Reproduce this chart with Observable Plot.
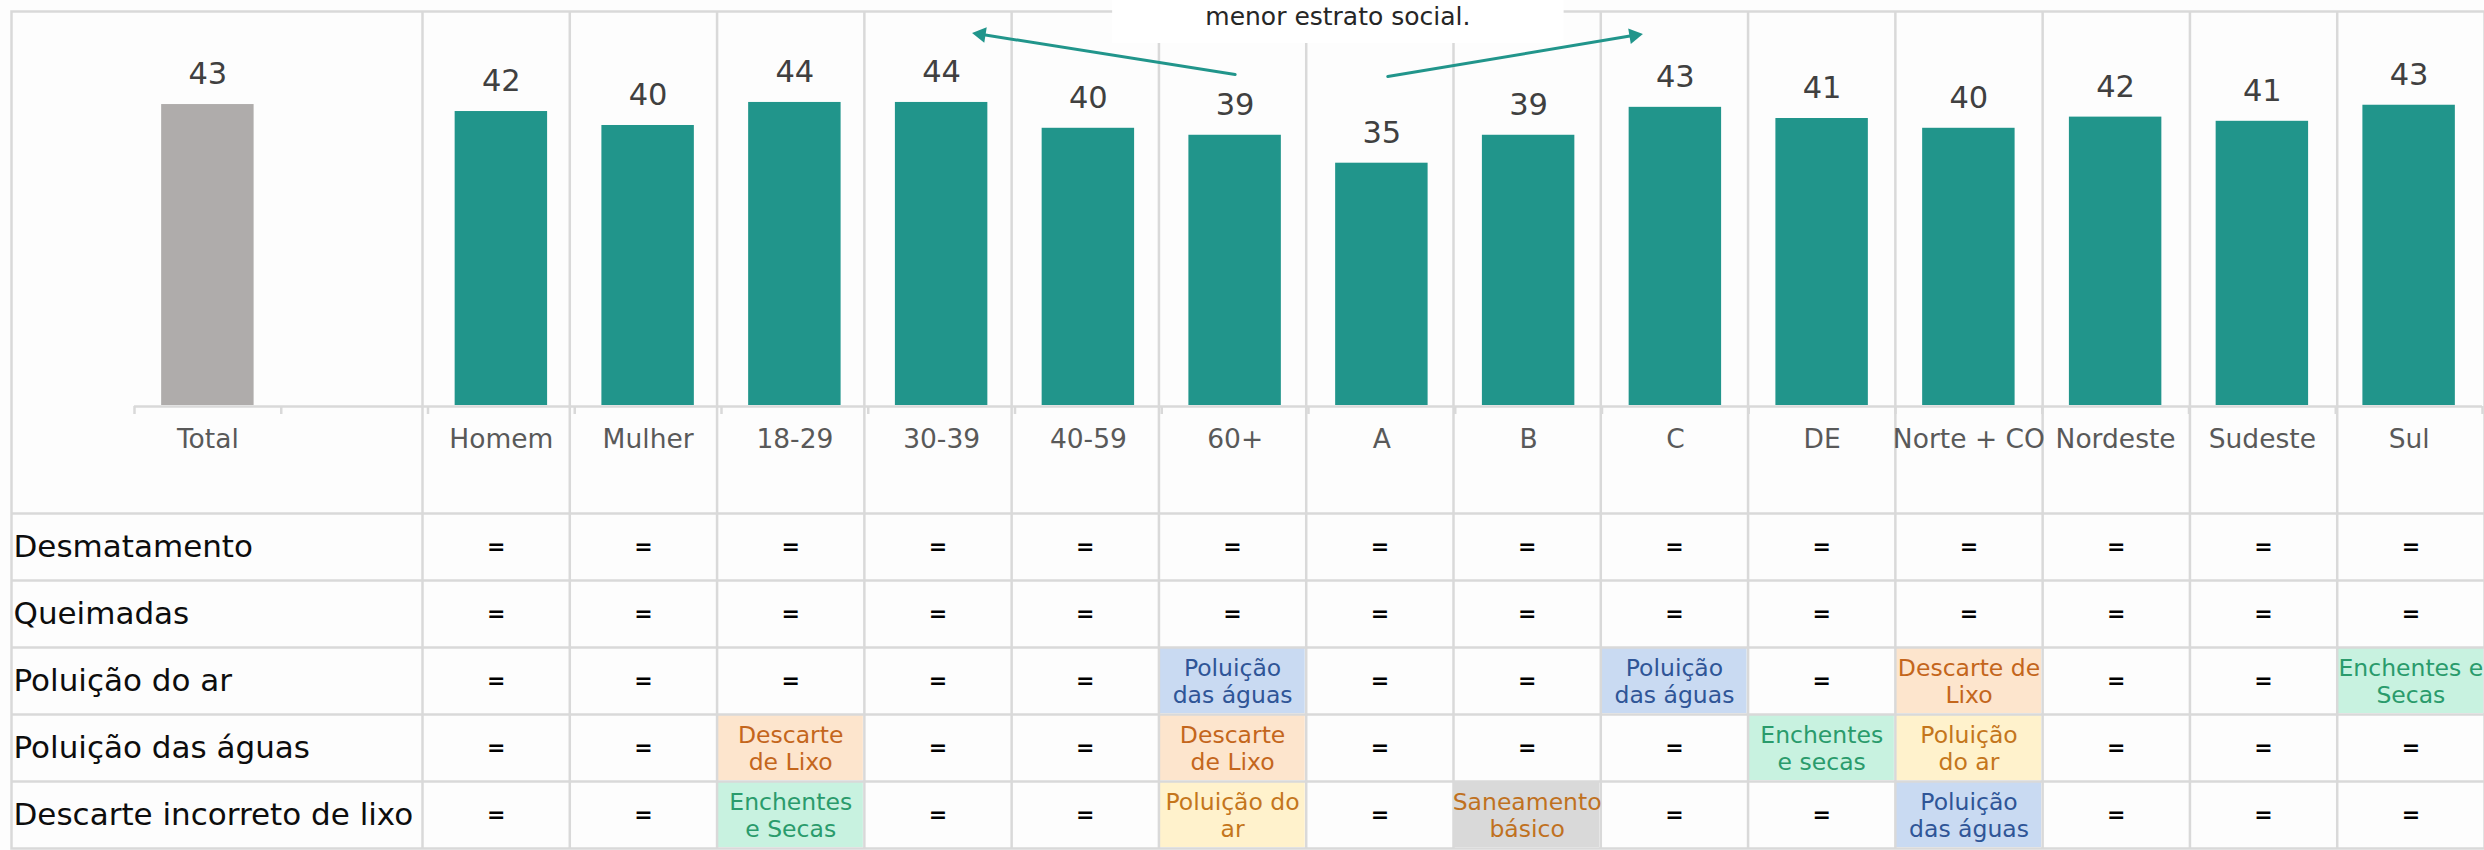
<!DOCTYPE html>
<html><head><meta charset="utf-8">
<script src="https://cdn.jsdelivr.net/npm/d3@7"></script>
<script src="https://cdn.jsdelivr.net/npm/@observablehq/plot@0.6"></script>
<style>
html,body{margin:0;padding:0;background:#FDFDFD;overflow:hidden}
#wrap{position:relative;width:2484px;height:850px}
#wrap svg{position:absolute;left:0;top:0}
</style></head><body><div id="wrap"></div>
<script>
// ---------- data ----------
const categories = ["Total","Homem","Mulher","18-29","30-39","40-59","60+","A","B","C","DE","Norte + CO","Nordeste","Sudeste","Sul"];
const values = [43.1,42.1,40.1,43.4,43.4,39.7,38.7,34.7,38.7,42.7,41.1,39.7,41.3,40.7,43.0];
const valueLabels = ["43","42","40","44","44","40","39","35","39","43","41","40","42","41","43"];

const rowLabels = ["Desmatamento","Queimadas","Poluição do ar","Poluição das águas","Descarte incorreto de lixo"];
const tableColumns = categories.slice(1);
const rowDesmatamento = ["=","=","=","=","=","=","=","=","=","=","=","=","=","="];
const rowQueimadas    = ["=","=","=","=","=","=","=","=","=","=","=","=","=","="];
const rowPoluicaoAr   = ["=","=","=","=","=","Poluição\ndas águas","=","=","Poluição\ndas águas","=","Descarte de\nLixo","=","=","Enchentes e\nSecas"];
const rowPoluicaoAguas= ["=","=","Descarte\nde Lixo","=","=","Descarte\nde Lixo","=","=","=","Enchentes\ne secas","Poluição\ndo ar","=","=","="];
const rowDescarte     = ["=","=","Enchentes\ne Secas","=","=","Poluição do\nar","=","Saneamento\nbásico","=","=","Poluição\ndas águas","=","=","="];
const annotationText = "menor estrato social.";

// ---------- styling ----------
const W = 2484, H = 850;
const gridColor = "#D9D9D9";
const teal = "#21958B", grey = "#AFACAB";
const topicFill = {"poluição das águas":"#C9DAF2","descarte de lixo":"#FDE5CD","enchentes e secas":"#C8F2E0","poluição do ar":"#FFF2CC","saneamento básico":"#D9D9D9"};
const topicText = {"poluição das águas":"#2F5597","descarte de lixo":"#C4661C","enchentes e secas":"#2A9B6C","poluição do ar":"#C4761C","saneamento básico":"#C0711F"};
const key = t => t.replace("\n"," ").toLowerCase();

// ---------- table ----------
const tableLeft = 11, tableTop = 11, labelColRight = 422, rowsTop = 513, rowsBottom = 848;
const colStep = (W - labelColRight) / tableColumns.length;
const rowStep = (rowsBottom - rowsTop) / rowLabels.length;
const tableRows = [rowDesmatamento,rowQueimadas,rowPoluicaoAr,rowPoluicaoAguas,rowDescarte];
const cells = rowLabels.flatMap((r,i) => tableRows[i].map((t,j) => ({row:r, col:tableColumns[j], text:t})));
const eqCells = cells.filter(d => d.text === "=");
const hiCells = cells.filter(d => d.text !== "=");

const table = Plot.plot({
  width: W, height: H,
  marginLeft: tableLeft, marginRight: 0, marginTop: tableTop, marginBottom: H - rowsBottom,
  x: {type:"band", domain: tableColumns, range:[labelColRight, W], padding:0, round:false, axis:null},
  y: {type:"band", domain: rowLabels, range:[rowsTop, rowsBottom], padding:0, round:false, axis:null},
  style: {background:"transparent", fontFamily:"DejaVu Sans"},
  marks: [
    Plot.cell(hiCells, {x:"col", y:"row", fill: d => topicFill[key(d.text)], inset:1}),
    Plot.ruleX(tableColumns, {x: d => d, dx: -colStep/2, stroke: gridColor, strokeWidth: 2.5}),
    Plot.ruleY(rowLabels, {y: d => d, dy: -rowStep/2, stroke: gridColor, strokeWidth: 2.5}),
    Plot.frame({stroke: gridColor, strokeWidth: 2.5}),
    Plot.text(eqCells, {x:"col", y:"row", text:"text", fontSize:22, fontWeight:"bold", fill:"#000"}),
    Plot.text(hiCells, {x:"col", y:"row", text:"text", fill: d => topicText[key(d.text)], fontSize:23.5, lineHeight:1.13}),
    Plot.text(rowLabels, {y: d => d, text: d => d, frameAnchor:"left", textAnchor:"start", dx:2, fontSize:31, fill:"#0D0D0D"})
  ]
});

// ---------- bars ----------
const spacer = " ";
const xDomain = [categories[0], spacer, ...categories.slice(1)];
const barData = categories.map((c,i) => ({cat:c, value:values[i], label:valueLabels[i]}));
const axisLeft = 134, axisRight = 2482, baseline = 405, yMax = 58;
const step = (axisRight - axisLeft) / xDomain.length;

const bars = Plot.plot({
  width: W, height: H,
  marginLeft: axisLeft, marginRight: W - axisRight, marginTop: 0, marginBottom: H - baseline,
  x: {type:"band", domain: xDomain, paddingInner:0.37, paddingOuter:0.185, round:false, label:null},
  y: {domain:[0, yMax], axis:null},
  style: {background:"transparent", fontFamily:"DejaVu Sans", color:"#595959"},
  marks: [
    Plot.barY(barData, {x:"cat", y:"value", fill: d => d.cat === "Total" ? grey : teal}),
    Plot.ruleY([0], {stroke: gridColor, strokeWidth: 2.5, dy: 1}),
    Plot.ruleX(xDomain, {x: d => d, y1: 0, y2: 0, dx: -step/2, dy: 1, insetBottom: -8, stroke: gridColor, strokeWidth: 2.5}),
    Plot.ruleX([xDomain[xDomain.length-1]], {x: d => d, y1: 0, y2: 0, dx: step/2, dy: 1, insetBottom: -8, stroke: gridColor, strokeWidth: 2.5}),
    Plot.axisX({tickSize:0, tickPadding:24, fontSize:26.5, label:null}),
    Plot.text(barData, {x:"cat", y:"value", text:"label", dy:-30, fontSize:30.5, fill:"#404040"}),
    // annotation
    Plot.barY([annotationText], {x: () => "A", y1: 51.84, y2: yMax, fill:"white", insetLeft:-223, insetRight:-136}),
    Plot.text([annotationText], {x: () => "A", y: 55.6, dx: -44, text: d => d, fontSize:25, fill:"#262626"}),
    Plot.arrow([annotationText], {x1: () => "60+", y1: 47.4, x2: () => "30-39", y2: 54.05, insetEnd: 38, stroke: teal, strokeWidth: 3, headLength: 0}),
    Plot.arrow([annotationText], {x1: () => "A", y1: 46.98, x2: () => "C", y2: 53.99, insetStart: 6, insetEnd: 40, stroke: teal, strokeWidth: 3, headLength: 0}),
    Plot.dot([annotationText], {x: () => "30-39", y: 53.15, dx: 39.4, symbol: "triangle2", r: 7.5, rotate: -81, fill: teal}),
    Plot.dot([annotationText], {x: () => "C", y: 53.0, dx: -41.4, symbol: "triangle2", r: 7.5, rotate: 80.5, fill: teal})
  ]
});

const wrap = document.getElementById("wrap");
wrap.append(table, bars);
</script></body></html>
